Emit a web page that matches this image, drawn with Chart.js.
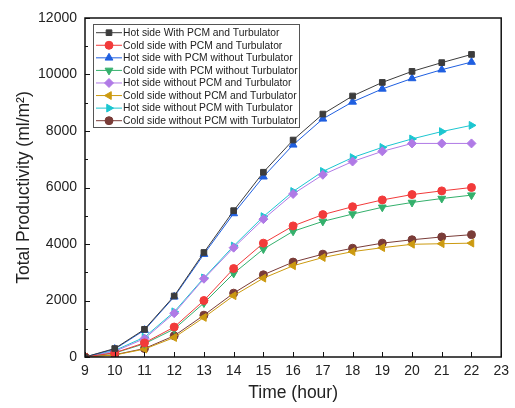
<!DOCTYPE html>
<html>
<head>
<meta charset="utf-8">
<script src="https://cdn.jsdelivr.net/npm/chart.js@4.4.1/dist/chart.umd.min.js"></script>
<style>
  body { margin: 0; background: #fff; }
  #wrap { width: 515px; height: 408px; }
</style>
</head>
<body>
<div id="wrap"><canvas id="chart-productivity" width="515" height="408"></canvas></div>
<script>
// time axis (hour)
const hours = [9, 10, 11, 12, 13, 14, 15, 16, 17, 18, 19, 20, 21, 22];

// values (ml/m2)
const hotPcmTurb      = [0, 300, 980, 2160, 3700, 5180, 6540, 7680, 8600, 9240, 9720, 10110, 10420, 10710];
const coldPcmTurb     = [0, 150, 500, 1060, 2000, 3130, 4030, 4640, 5040, 5320, 5560, 5750, 5880, 6000];
const hotPcmNoTurb    = [0, 280, 950, 2130, 3640, 5080, 6380, 7510, 8430, 9030, 9490, 9860, 10170, 10440];
const coldPcmNoTurb   = [0, 140, 470, 990, 1910, 2960, 3820, 4450, 4800, 5060, 5300, 5470, 5610, 5730];
const hotNoPcmNoTurb  = [0, 200, 650, 1550, 2770, 3870, 4880, 5770, 6450, 6920, 7280, 7560, 7560, 7560];
const coldNoPcmNoTurb = [0, 70, 280, 690, 1400, 2170, 2790, 3230, 3520, 3730, 3870, 3990, 4010, 4030];
const hotNoPcmTurb    = [0, 230, 700, 1600, 2800, 3930, 4970, 5860, 6570, 7060, 7420, 7720, 7980, 8200];
const coldNoPcmTurb   = [0, 80, 300, 750, 1480, 2260, 2910, 3360, 3640, 3850, 4030, 4150, 4250, 4330];

const xTicks = [9, 10, 11, 12, 13, 14, 15, 16, 17, 18, 19, 20, 21, 22, 23];
const yTicks = [0, 2000, 4000, 6000, 8000, 10000, 12000];

function pts(vals) {
    return vals.map((v, i) => ({ x: hours[i], y: v }));
}

const series = [
    { label: 'Hot side With PCM and Turbulator', data: hotPcmTurb, color: '#3c3c3c', style: 'rect', rot: 0, r: 4 },
    { label: 'Cold side with PCM and Turbulator', data: coldPcmTurb, color: '#f23a3a', style: 'circle', rot: 0, r: 4 },
    { label: 'Hot side with PCM without Turbulator', data: hotPcmNoTurb, color: '#1f5fe0', style: 'triangle', rot: 0, r: 4.5 },
    { label: 'Cold side with PCM without Turbulator', data: coldPcmNoTurb, color: '#34b06c', style: 'triangle', rot: 180, r: 4.5 },
    { label: 'Hot side without PCM and Turbulator', data: hotNoPcmNoTurb, color: '#b07ae6', style: 'rectRot', rot: 0, r: 4.5 },
    { label: 'Cold side without PCM and Turbulator', data: coldNoPcmNoTurb, color: '#cc9a10', style: 'triangle', rot: 270, r: 4.5 },
    { label: 'Hot side without PCM with Turbulator', data: hotNoPcmTurb, color: '#1cc6d0', style: 'triangle', rot: 90, r: 4.5 },
    { label: 'Cold side without PCM with Turbulator', data: coldNoPcmTurb, color: '#7a3c38', style: 'circle', rot: 0, r: 4 }
];

const FONT = '"Liberation Sans", Arial, sans-serif';

// inward ticks + frame
const frameTicks = {
    id: 'frameTicks',
    afterDatasetsDraw(chart) {
        const ctx = chart.ctx;
        const a = chart.chartArea;
        const xs = chart.scales.x, ys = chart.scales.y;
        ctx.save();
        ctx.strokeStyle = '#111';
        ctx.lineWidth = 1;
        ctx.beginPath();
        xTicks.forEach(t => {
            const px = Math.round(xs.getPixelForValue(t)) + 0.5;
            ctx.moveTo(px, a.bottom);
            ctx.lineTo(px, a.bottom - 5);
        });
        for (let v = 0; v <= 12000; v += 1000) {
            const py = Math.round(ys.getPixelForValue(v)) + 0.5;
            ctx.moveTo(a.left, py);
            ctx.lineTo(a.left + (v % 2000 === 0 ? 5 : 3), py);
        }
        ctx.stroke();
        ctx.lineWidth = 1.5;
        ctx.strokeRect(a.left, a.top, a.right - a.left, a.bottom - a.top);
        ctx.restore();
    }
};

// legend box drawn like the original (line through marker)
const boxLegend = {
    id: 'boxLegend',
    afterDraw(chart) {
        const ctx = chart.ctx;
        const x0 = 93, y0 = 24, w = 206, h = 103, row = 12.57;
        ctx.save();
        ctx.fillStyle = '#fff';
        ctx.fillRect(x0, y0, w, h);
        ctx.strokeStyle = '#555';
        ctx.lineWidth = 1;
        ctx.strokeRect(x0 + 0.5, y0 + 0.5, w, h);
        ctx.font = '10.3px ' + FONT;
        ctx.textBaseline = 'middle';
        series.forEach((s, i) => {
            const cy = y0 + 8.7 + i * row;
            ctx.strokeStyle = s.color;
            ctx.beginPath();
            ctx.moveTo(x0 + 3, cy);
            ctx.lineTo(x0 + 29, cy);
            ctx.stroke();
            ctx.fillStyle = s.color;
            Chart.helpers.drawPoint(ctx, { pointStyle: s.style, rotation: s.rot, radius: s.r, borderWidth: 1 }, x0 + 16, cy);
            ctx.fillStyle = '#222';
            ctx.fillText(s.label, x0 + 30, cy + 0.5);
        });
        ctx.restore();
    }
};

const element = document.getElementById('chart-productivity');
const chart = new Chart(element, {
    type: 'line',
    data: {
        datasets: series.map(s => ({
            label: s.label,
            data: pts(s.data),
            borderColor: s.color,
            backgroundColor: s.color,
            borderWidth: 1,
            pointStyle: s.style,
            rotation: s.rot,
            pointRadius: s.r,
            pointBorderWidth: 1,
            tension: 0
        }))
    },
    options: {
        responsive: false,
        animation: false,
        layout: { padding: { left: 0, right: 8, top: 18, bottom: 0 } },
        plugins: {
            legend: { display: false },
            tooltip: { enabled: false }
        },
        scales: {
            x: {
                type: 'linear',
                min: 9,
                max: 23,
                afterBuildTicks: (scale) => { scale.ticks = xTicks.map(v => ({ value: v })); },
                afterFit: (scale) => { scale.height = 51; },
                grid: { display: false, drawTicks: false },
                border: { display: false },
                ticks: { color: '#222', font: { size: 14, family: FONT }, padding: 6, maxRotation: 0 },
                title: { display: true, text: 'Time (hour)', color: '#222', font: { size: 17.5, family: FONT }, padding: { top: 7 } }
            },
            y: {
                min: 0,
                max: 12000,
                afterBuildTicks: (scale) => { scale.ticks = yTicks.map(v => ({ value: v })); },
                afterFit: (scale) => { scale.width = 85; },
                grid: { display: false, drawTicks: false },
                border: { display: false },
                ticks: { color: '#222', font: { size: 14, family: FONT }, padding: 8, callback: (v) => String(v) },
                title: { display: true, text: 'Total Productivity (ml/m²)', color: '#222', font: { size: 17.5, family: FONT }, padding: { top: 14 } }
            }
        }
    },
    plugins: [frameTicks, boxLegend]
});
</script>
</body>
</html>
